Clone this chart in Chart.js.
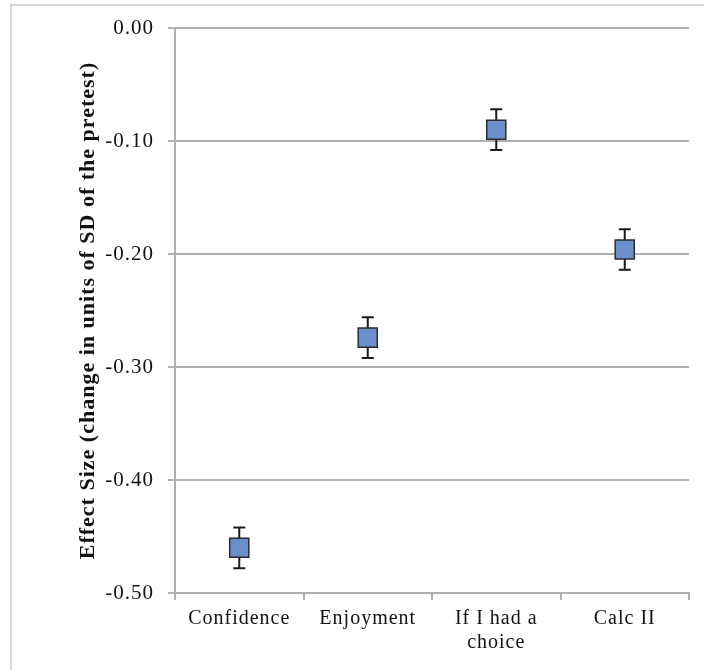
<!doctype html>
<html lang="en">
  <head>
    <meta charset="utf-8">
    <title>Effect size by item</title>
    <style>
    body { margin: 0; background: #fff; }
    #wrap { position: relative; width: 704px; height: 670px; }
    #frame {
      position: absolute; left: 10px; top: 4px; right: -4px; bottom: -4px;
      border-top: 2px solid #d6d6d6; border-left: 2px solid #d6d6d6;
    }
    #canvas { position: absolute; left: 0; top: 0; }
    </style>
  </head>
  <body>
    <div id="wrap">
      <div id="frame"></div>
      <canvas id="canvas" width="704" height="670"></canvas>
    </div>

    <script src="https://cdn.jsdelivr.net/npm/chart.js@4"></script>
    <script>
    const categories = ['Confidence', 'Enjoyment', ['If I had a', 'choice'], 'Calc II'];
    const effectSize = [-0.460, -0.274, -0.090, -0.196];
    const errorBar = [0.018, 0.018, 0.018, 0.018];
    const yTicks = [0, -0.1, -0.2, -0.3, -0.4, -0.5];

    const serif = "'Liberation Serif', 'DejaVu Serif', serif";

    // the original font is wider than Liberation Serif, so space the letters a bit
    const spacing = {
      id: 'spacing',
      beforeDraw(chart) { chart.ctx.letterSpacing = '1px'; },
      afterDraw(chart) { chart.ctx.letterSpacing = '0px'; }
    };

    // whiskers with caps, drawn before the square markers
    const errorBars = {
      id: 'errorBars',
      beforeDatasetsDraw(chart) {
        const ctx = chart.ctx;
        const x = chart.scales.x, y = chart.scales.y;
        ctx.save();
        ctx.strokeStyle = '#1a1a1a';
        ctx.lineWidth = 2;
        effectSize.forEach((v, i) => {
          const px = x.getPixelForValue(i);
          const top = y.getPixelForValue(v + errorBar[i]);
          const bot = y.getPixelForValue(v - errorBar[i]);
          ctx.beginPath();
          ctx.moveTo(px, top); ctx.lineTo(px, bot);
          ctx.moveTo(px - 6, top); ctx.lineTo(px + 6, top);
          ctx.moveTo(px - 6, bot); ctx.lineTo(px + 6, bot);
          ctx.stroke();
        });
        ctx.restore();
      }
    };

    new Chart(document.getElementById('canvas'), {
      type: 'line',
      data: {
        labels: categories,
        datasets: [{
          data: effectSize,
          showLine: false,
          pointStyle: 'rect',
          pointRadius: 13.5,
          pointHoverRadius: 13.5,
          pointBackgroundColor: '#6b8fca',
          pointBorderColor: '#2b2b2b',
          pointBorderWidth: 1.5
        }]
      },
      options: {
        responsive: false,
        animation: false,
        events: [],
        layout: { padding: { left: 75, right: 14, top: 28, bottom: 0 } },
        plugins: { legend: { display: false }, tooltip: { enabled: false } },
        scales: {
          x: {
            offset: true,
            afterFit: (s) => { s.height = 77; },
            grid: { offset: true, drawOnChartArea: false, color: '#b0b0b0', lineWidth: 2, tickLength: 7 },
            border: { color: '#b0b0b0', width: 2 },
            ticks: { color: '#111', font: { family: serif, size: 20 }, padding: 7, maxRotation: 0, autoSkip: false }
          },
          y: {
            min: -0.5, max: 0,
            afterFit: (s) => { s.width = 100; },
            afterBuildTicks: (s) => { s.ticks = yTicks.map((v) => ({ value: v })); },
            grid: { color: '#b0b0b0', lineWidth: 2, tickLength: 7 },
            border: { color: '#b0b0b0', width: 2 },
            ticks: {
              color: '#111', font: { family: serif, size: 21 }, padding: 14,
              callback: (v) => v.toFixed(2)
            },
            title: {
              display: true,
              text: 'Effect Size (change in units of SD of the pretest)',
              color: '#111',
              font: { family: serif, size: 22, weight: 'bold' },
              padding: 0
            }
          }
        }
      },
      plugins: [spacing, errorBars]
    });
    </script>
  </body>
</html>
